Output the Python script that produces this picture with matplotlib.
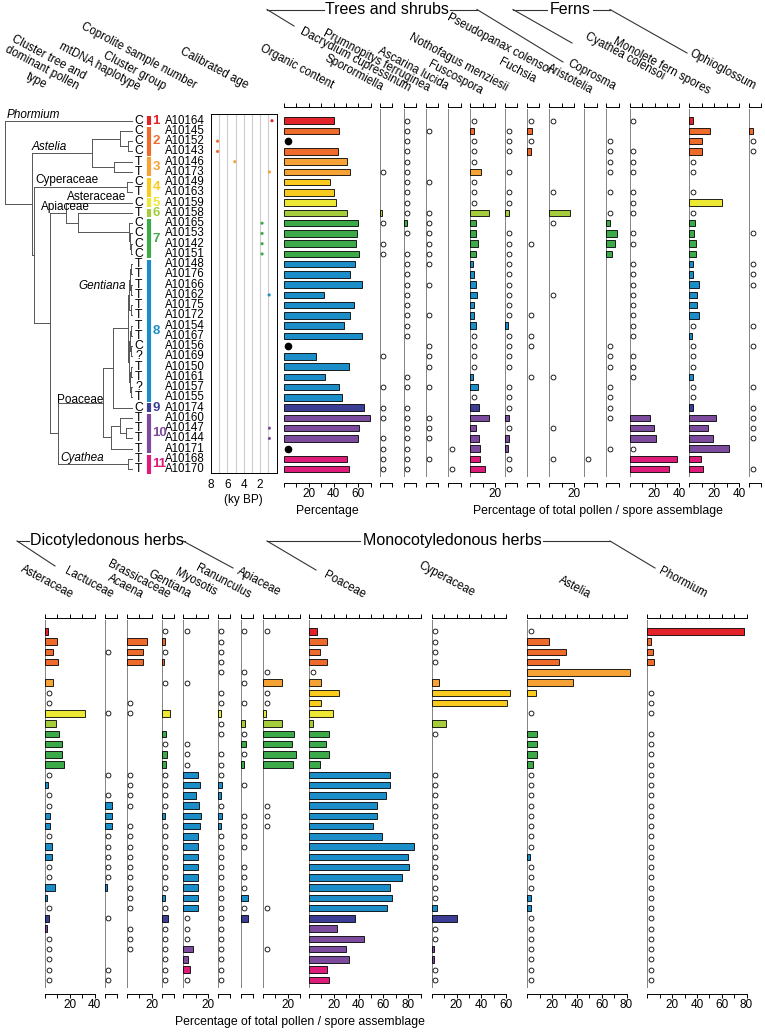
import numpy as np
import matplotlib
matplotlib.use('Agg')
import matplotlib.pyplot as plt

plt.rcParams['font.family'] = ['Liberation Sans', 'DejaVu Sans']

# ------------------------------------------------------------------ data
samples = ['A10164', 'A10145', 'A10152', 'A10143', 'A10146', 'A10173', 'A10149',
           'A10163', 'A10159', 'A10158', 'A10165', 'A10153', 'A10142', 'A10151',
           'A10148', 'A10176', 'A10166', 'A10162', 'A10175', 'A10172', 'A10154',
           'A10167', 'A10156', 'A10169', 'A10150', 'A10161', 'A10157', 'A10155',
           'A10174', 'A10160', 'A10147', 'A10144', 'A10171', 'A10168', 'A10170']
haplotypes = list("CCCCTTCTCTCCCCTTTTTTTTC?TT?TCTTTTTT")
clusters = [1, 2, 2, 2, 3, 3, 4, 4, 5, 6, 7, 7, 7, 7] + [8] * 14 + [9, 10, 10, 10, 10, 11, 11]
cluster_colors = {1: '#E3222A', 2: '#EE6B2B', 3: '#F6A234', 4: '#F8CB1E', 5: '#EDE833',
                  6: '#A5CD3B', 7: '#3DAA4A', 8: '#1B8DC9', 9: '#3C3E95', 10: '#7C4B9D',
                  11: '#DF1B7A'}
NA = np.nan
ages = [0.55, NA, 7.2, 7.2, 5.1, 0.87, NA, NA, NA, NA, 1.76, 1.76, 1.76, 1.76, NA, NA, NA,
        0.9, NA, NA, NA, NA, NA, NA, NA, NA, NA, NA, NA, NA, 0.87, 0.87, NA, NA, NA]
organic = [40.5, 44, NA, 43.5, 50.5, 53, 36.8, 40, 42, 51, 59.5, 59, 58.4, 60.5, 57, 53.5,
           62.7, 32, 56.5, 53.5, 48, 62.7, NA, 26, 52.7, 32.7, 44.3, 47, 64.3, 69, 60.8,
           59.7, NA, 50.8, 52.4]

# dendrogram merges: (child a, child b, height); leaves 0..34, internal nodes 35..
merges = [(2, 3, 4), (1, 35, 12), (4, 5, 18), (36, 37, 40),           # 35-38
          (6, 7, 5),                                                   # 39
          (12, 13, 1.5), (11, 40, 2.5), (10, 41, 3.5), (9, 42, 53.7),  # 40-43
          (8, 43, 66.3),                                               # 44
          (14, 15, 1), (16, 17, 1.2), (45, 46, 2), (18, 19, 1), (47, 48, 3),   # 45-49
          (20, 21, 1.5), (22, 23, 0.7), (50, 51, 2.5), (24, 25, 1), (26, 27, 1.5),  # 50-54
          (53, 54, 2), (52, 55, 3.5), (49, 56, 4.5), (57, 28, 19.3),   # 55-58
          (30, 31, 6), (29, 59, 12), (60, 32, 21), (58, 61, 28.7),     # 59-62
          (33, 34, 4.3), (62, 63, 73.7), (44, 64, 82), (39, 65, 97.7), # 63-66
          (38, 66, 100.3), (0, 67, 127)]                               # 67-68
clade_labels = [('Phormium', True), ('Astelia', True), ('Cyperaceae', False),
                ('Asteraceae', False), ('Apiaceae', False), ('Gentiana', True),
                ('Poaceae', False), ('Cyathea', True)]

# top section taxa (0 = absent, 0.5 = present < 1 %)
sporormiella = [0, 0, 0, 0, 0, .5, 0, 0, 0, 2.2, .5, 0, .5, .5, 0, 0, 0, 0, 0, 0, 0, 0, 0, .5,
                0, 0, .5, 0, .5, .5, 0, .5, .5, .5, .5]
dacrydium = [.5, .5, .5, .5, .5, .5, .5, .5, .5, .5, 2.4, .5, 0, .5, .5, .5, .5, .5, .5, .5,
             .5, .5, 0, 0, 0, .5, .5, 0, .5, .5, .5, .5, .5, .5, .5]
prumnopitys = [0, .5, 0, 0, 0, 0, .5, 0, 0, .5, .5, .5, .5, .5, .5, 0, .5, 0, 0, .5, 0, 0,
               .5, .5, .5, 0, .5, 0, 0, .5, .5, .5, 0, .5, 0]
ascarina = [0] * 32 + [.5, 0, .5]
fuscospora = [.5, 2.7, .5, .5, .5, 8.9, .5, .5, .5, 14.9, 4.9, 4.6, 6.2, 4.9, 2.4, 2.7, 4.9,
              5.7, 3.2, 3.2, 4.6, .5, .5, .5, .5, 2.4, 6.2, .5, 6.8, 14.9, 4.3, 7, 7.6, 8.1, 11.9]
nothofagus = [0, .5, .5, .5, 0, .5, 0, .5, .5, 3, 0, .5, .5, .5, .5, .5, .5, .5, .5, .5, 2.4,
              .5, .5, .5, .5, 0, .5, .5, .5, 3.5, .5, 3, 2.4, .5, .5]
fuchsia = [.5, 3.8, .5, 3.2, 0, 0, 0, 0, 0, 0, 0, 0, .5, 0, 0, 0, 0, 0, 0, .5, 0, .5, .5, 0,
           0, .5, 0, 0, 0, 0, 0, 0, 0, 0, 0]
pseudopanax = [.5, 0, 0, 0, 0, 0, 0, .5, 0, 16.8, .5, 0, 0, 0, 0, 0, 0, .5, 0, 0, 0, 0, 0, 0,
               0, .5, 0, 0, 0, 0, .5, 0, 0, .5, 0]
aristotelia = [0] * 33 + [.5, 0]
coprosma = [0, 0, .5, .5, .5, .5, 0, .5, 0, .5, 2.7, 8.4, 6.8, 4.6, 0, 0, 0, 0, 0, 0, 0, 0,
            .5, .5, .5, 0, .5, .5, .5, .5, 0, 0, .5, 0, 0]
cyathea = [.5, 0, 0, .5, .5, .5, 0, .5, .5, .5, 0, .5, .5, 0, .5, .5, .5, .5, .5, .5, .5, .5,
           0, .5, .5, .5, 0, 0, 0, 16.5, 19.2, 21.6, .5, 38.4, 31.4]
monolete = [3.2, 16.8, 10.5, 10, .5, .5, 0, .5, 26.2, .5, 4.6, 4, 5.7, 5.1, 3.2, 3.2, 8.1,
            6.5, 6.5, 7.6, .5, 2.4, .5, .5, .5, 3, .5, .5, 3.2, 21.6, 15.4, 18.9, 31.9, 9.5, 11.4]
ophioglossum = [0, 3.5, .5, .5, 0, 0, 0, 0, 0, 0, 0, .5, 0, 0, .5, .5, .5, 0, 0, 0, .5, 0, .5,
                0, 0, 0, .5, 0, .5, .5, .5, .5, 0, 0, .5]

# bottom section taxa
asteraceae = [2.7, 9.9, 6.7, 10.4, 0, 6.7, .5, .5, 32.5, 8.5, 10.9, 14.1, 14.1, 15.7, .5, 2.1,
              .5, .5, 4, 4.3, .5, 6, 6, .5, .5, 8, 2, .5, 3, 2, .5, .5, .5, .5, .5]
lactuceae = [0, 0, .5, 0, 0, 0, 0, 0, .5, 0, 0, 0, 0, 0, .5, 0, .5, 6.1, 5.6, 6.1, .5, .5, .5,
             .5, .5, 2, 0, 0, .5, 0, 0, 0, 0, .5, .5]
acaena = [0, 16.5, 12.8, 13.1, 0, 0, 0, .5, .5, 0, 0, 0, 0, 0, .5, .5, .5, .5, 0, .5, .5, .5,
          .5, .5, .5, .5, .5, .5, 0, .5, .5, .5, 0, 0, 0]
brassicaceae = [.5, 2.4, .5, 2.1, 0, .5, 0, 0, 6.4, 0, 3.5, .5, 4.3, 3.5, .5, .5, .5, .5, 2.4,
                .5, .5, .5, .5, .5, .5, .5, 2.4, .5, 5, .5, .5, .5, .5, .5, .5]
gentiana = [.5, 0, 0, 0, 0, .5, 0, 0, 0, 0, 0, .5, .5, .5, 12, 13.1, 9.9, 12.3, 14.1, 13.3,
            12, 12, 12, 12, 12, 12, 12, 12, .5, .5, .5, 8, 4, 5, .5]
myosotis = [.5, .5, .5, .5, .5, 0, .5, .5, 2.9, .5, .5, 0, .5, .5, .5, 3.7, 2.9, .5, 3.2,
            2.9, .5, .5, .5, .5, .5, .5, .5, .5, .5, .5, .5, .5, .5, .5, .5]
ranunculus = [.5, 0, 0, 0, .5, .5, 0, .5, 0, 3.7, .5, 4.3, .5, 2.9, 0, .5, 0, 0, .5, .5,
              .5, .5, 0, .5, .5, .5, 6, .5, 6, 0, 0, 0, 0, 0, 0]
apiaceae = [.5, 0, 0, 0, .5, 15.5, .5, .5, 2.7, 15.7, 25, 23.2, 26.7, 24.5, 0, 0, 0, .5, .5,
            .5, 0, 0, 0, 0, 0, 0, 0, .5, 0, 0, 0, .5, 0, 0, 0]
poaceae = [6.5, 14.6, 9, 14.6, .5, 10, 24, 10, 19.5, 3, 16, 14, 16, 9, 65, 65, 62, 54.5, 55,
           52, 59, 85, 80, 81, 75, 65, 67, 62.5, 37, 22.7, 44, 30, 32.5, 14.6, 16]
cyperaceae = [.5, .5, .5, .5, 0, 6, 63.5, 61, 0, 11.6, .5, 0, 0, 0, .5, .5, .5, .5, .5, .5,
              .5, .5, .5, .5, .5, .5, .5, 4.5, 20, .5, .5, 2, 2, .5, .5]
astelia = [.5, 17.6, 31.4, 25.7, 82.7, 37, 7, 0, .5, 0, 8, 8, 8, 4.6, .5, .5, .5, .5, .5, .5,
           .5, .5, 2, .5, .5, .5, 3, 3, .5, .5, .5, .5, .5, .5, .5]
phormium = [77.8, 3, 4.6, 5.4, 0, 0, .5, .5, .5, 0, .5, .5, .5, .5, .5, .5, .5, .5, .5, .5,
            .5, .5, .5, .5, .5, .5, .5, .5, .5, .5, .5, .5, .5, .5, .5]

top_panels = [('Sporormiella', sporormiella, 10), ('Dacrydium cupressinum', dacrydium, 10),
              ('Prumnopitys ferruginea', prumnopitys, 10), ('Ascarina lucida', ascarina, 10),
              ('Fuscospora', fuscospora, 20), ('Nothofagus menziesii', nothofagus, 10),
              ('Fuchsia', fuchsia, 10), ('Pseudopanax colensoi', pseudopanax, 20),
              ('Aristotelia', aristotelia, 10), ('Coprosma', coprosma, 10),
              ('Cyathea colensoi', cyathea, 40), ('Monolete fern spores', monolete, 40),
              ('Ophioglossum', ophioglossum, 10)]
bottom_panels = [('Asteraceae', asteraceae, 40), ('Lactuceae', lactuceae, 10),
                 ('Acaena', acaena, 20), ('Brassicaceae', brassicaceae, 10),
                 ('Gentiana', gentiana, 20), ('Myosotis', myosotis, 10),
                 ('Ranunculus', ranunculus, 10), ('Apiaceae', apiaceae, 30),
                 ('Poaceae', poaceae, 90), ('Cyperaceae', cyperaceae, 60),
                 ('Astelia', astelia, 80), ('Phormium', phormium, 80)]

# ------------------------------------------------------------------ layout (pixels)
W, H = 765, 1032
SC = 1.24                       # px per percent
ROW_DY = 10.25
TOP_ROW0, TOP_Y0, TOP_Y1 = 120.7, 109, 477
BOT_ROW0, BOT_Y0, BOT_Y1 = 631.3, 620, 988
top_x0 = [379.7, 403.7, 425.7, 448.3, 470.3, 505, 527, 549.3, 584.3, 606.3, 629.7, 689.3, 749]
top_label_end = [(381, 93), (408, 93), (428, 93), (446, 92), (480, 96), (506, 93), (534, 85),
                 (548, 76), (591, 96), (614, 92), (662, 82), (708, 96), (754, 92)]
bot_x0 = [45, 104.7, 126.7, 161.7, 183.3, 217.7, 240.7, 263, 309, 431.7, 527.3, 647.3]
bot_label_end = [(71, 600), (111, 600), (141, 600), (168, 600), (189, 600), (214, 598),
                 (249, 600), (279, 598), (363, 600), (473, 598), (588, 600), (704, 600)]

fig = plt.figure(figsize=(W / 100, H / 100), dpi=100)
fig.patch.set_facecolor('white')


def px_axes(x0, y0, x1, y1):
    return fig.add_axes([x0 / W, 1 - y1 / H, (x1 - x0) / W, (y1 - y0) / H])


def row_lim(ax, row0, y0, y1):
    ax.set_ylim((y1 - row0) / ROW_DY, (y0 - row0) / ROW_DY)


def style_strat(ax, xmax, top_out, bot_out):
    for s in ('left', 'right'):
        ax.spines[s].set_visible(False)
    for s, o in (('top', top_out), ('bottom', bot_out)):
        ax.spines[s].set_position(('outward', o))
        ax.spines[s].set_bounds(0, xmax)
        ax.spines[s].set_linewidth(0.7)
    ticks = np.arange(0, xmax + 0.01, 10)
    ax.set_xticks(ticks)
    ax.set_xticklabels([str(int(t)) if (t > 0 and t % 20 == 0) else '' for t in ticks])
    ax.tick_params(axis='x', top=True, bottom=True, labeltop=False, labelbottom=True,
                   direction='out', length=2.6, width=0.7, pad=1.2, labelsize=8.5)
    ax.set_yticks([])
    ax.patch.set_visible(False)


def draw_vals(ax, vals):
    v = np.array(vals, float)
    rows = np.arange(len(v))
    isbar = v >= 1
    bars = ax.barh(rows[isbar], v[isbar], height=0.64,
                   color=[cluster_colors[clusters[i]] for i in rows[isbar]],
                   edgecolor='black', linewidth=0.6, zorder=3)
    for b in bars:
        b.set_clip_on(False)
    tr = (v > 0) & (v < 1)
    ax.plot(np.full(tr.sum(), 3.0), rows[tr], 'o', ms=3.5, mfc='white', mec='black',
            mew=0.6, clip_on=False, zorder=3)


def taxon_panel(x0, xmax, vals, row0, y0, y1, top_out, bot_out):
    ax = px_axes(x0, y0, x0 + xmax * SC, y1)
    ax.set_xlim(0, xmax)
    row_lim(ax, row0, y0, y1)
    ax.axvline(0, color='#7a7a7a', lw=1.3, zorder=2)
    draw_vals(ax, vals)
    style_strat(ax, xmax, top_out, bot_out)
    return ax


# overlay for headers
ov = fig.add_axes([0, 0, 1, 1])
ov.set_xlim(0, W)
ov.set_ylim(H, 0)
ov.axis('off')

ROT = -28
def rot_label(x, y, s, size=8.3, style='normal'):
    ov.text(x, y, s, rotation=ROT, rotation_mode='anchor', ha='right', va='baseline',
            fontsize=size, style=style)

# left header labels
rot_label(84, 80, 'Cluster tree and')
rot_label(76, 90, 'dominant pollen')
rot_label(44, 89, 'type')
rot_label(138, 90, 'mtDNA haplotype')
rot_label(194, 89, 'Coprolite sample number')
rot_label(164, 90, 'Cluster group')
rot_label(246, 89, 'Calibrated age')
rot_label(331, 89, 'Organic content')
for (name, _, _), (xe, ye) in zip(top_panels, top_label_end):
    rot_label(xe, ye - 2, name)
for (name, _, _), (xe, ye) in zip(bottom_panels, bot_label_end):
    rot_label(xe, ye - 2, name)


def bracket(xl, xr, y, text, tx, left_end, right_end, tw):
    ov.plot([xl, tx - tw / 2 - 3], [y, y], color='#333333', lw=0.8)
    ov.plot([tx + tw / 2 + 3, xr], [y, y], color='#333333', lw=0.8)
    ov.plot([xl, left_end[0]], [y, left_end[1]], color='#333333', lw=0.8)
    ov.plot([xr, right_end[0]], [y, right_end[1]], color='#333333', lw=0.8)
    ov.text(tx, y, text, ha='center', va='center', fontsize=11.5)

bracket(267, 477, 9.5, 'Trees and shrubs', 387, (294, 26), (563, 62), 120)
bracket(513, 610, 9.5, 'Ferns', 570, (572, 43), (687, 53), 40)
bracket(17, 183, 541, 'Dicotyledonous herbs', 107, (55, 566), (233, 568), 150)
bracket(267, 610, 541, 'Monocotyledonous herbs', 452, (316, 570), (655, 568), 177)

# ------------------------------------------------------------------ left block
axL = px_axes(0, TOP_Y0, 210, TOP_Y1)
axL.set_xlim(0, 210)
row_lim(axL, TOP_ROW0, TOP_Y0, TOP_Y1)
axL.axis('off')

LEAF_X, HSCALE = 132, 1.0
n = len(samples)
node_y = {i: float(i) for i in range(n)}
node_h = {i: 0.0 for i in range(n)}
for k, (a, b, h) in enumerate(merges):
    idx = n + k
    node_y[idx] = (node_y[a] + node_y[b]) / 2
    node_h[idx] = h
    xh = LEAF_X - h * HSCALE
    axL.plot([xh, xh], [node_y[a], node_y[b]], color='#555555', lw=0.7)
    for c in (a, b):
        axL.plot([xh, LEAF_X - node_h[c] * HSCALE], [node_y[c], node_y[c]],
                 color='#555555', lw=0.7)

clade_pos = [(7, 117.5), (32, 149.5), (35, 182.5), (66.5, 200.3), (41, 210), (78, 289.3),
             (57, 403), (60, 461)]
for (txt, it), (x, y) in zip(clade_labels, clade_pos):
    axL.text(x, (y - TOP_ROW0) / ROW_DY, txt, fontsize=8.5, style='italic' if it else 'normal',
             ha='left', va='baseline')

for i in range(n):
    axL.text(138.5, i, haplotypes[i], ha='center', va='center', fontsize=8.8)
    axL.text(205, i, samples[i], ha='right', va='center', fontsize=8.3)
for c in sorted(set(clusters)):
    rs = [i for i in range(n) if clusters[i] == c]
    axL.plot([148.7, 148.7], [rs[0] - 0.42, rs[-1] + 0.42], color=cluster_colors[c],
             lw=3.0, solid_capstyle='butt')
    axL.text(152.3, (rs[0] + rs[-1]) / 2, str(c), color=cluster_colors[c], ha='left',
             va='center', fontsize=9.5, fontweight='bold')

# ------------------------------------------------------------------ age panel
axA = px_axes(211, 114, 276.5, 473.3)
axA.set_xlim(8, 0)
row_lim(axA, TOP_ROW0, 114, 473.3)
for g in range(1, 8):
    axA.axvline(g, color='#cccccc', lw=0.8, zorder=0)
ag = np.array(ages, float)
ok = ~np.isnan(ag)
axA.scatter(ag[ok], np.arange(n)[ok], s=5,
            c=[cluster_colors[clusters[i]] for i in np.arange(n)[ok]], zorder=3, linewidths=0)
axA.set_xticks([8, 6, 4, 2])
axA.set_yticks([])
axA.tick_params(axis='x', length=0, pad=4, labelsize=8.5)
for s in axA.spines.values():
    s.set_linewidth(0.7)
axA.set_xlabel('(ky BP)', fontsize=8.5, labelpad=2)

# ------------------------------------------------------------------ organic content
axO = px_axes(284, TOP_Y0, 284 + 70 * SC, TOP_Y1)
axO.set_xlim(0, 70)
row_lim(axO, TOP_ROW0, TOP_Y0, TOP_Y1)
draw_vals(axO, np.nan_to_num(np.array(organic, float), nan=0.0))
miss = np.isnan(np.array(organic, float))
axO.plot(np.full(miss.sum(), 3.0), np.arange(n)[miss], 'o', ms=4.5, color='black',
         clip_on=False, zorder=4)
style_strat(axO, 70, 1.7, 4.2)

# ------------------------------------------------------------------ taxa panels
for (name, vals, xmax), x0 in zip(top_panels, top_x0):
    taxon_panel(x0, xmax, vals, TOP_ROW0, TOP_Y0, TOP_Y1, 1.7, 4.2)
for (name, vals, xmax), x0 in zip(bottom_panels, bot_x0):
    taxon_panel(x0, xmax, vals, BOT_ROW0, BOT_Y0, BOT_Y1, 1.2, 4.2)

ov.text(327, 511, 'Percentage', ha='center', va='center', fontsize=8.8)
ov.text(598, 511, 'Percentage of total pollen / spore assemblage', ha='center',
        va='center', fontsize=8.8)
ov.text(300, 1022, 'Percentage of total pollen / spore assemblage', ha='center',
        va='center', fontsize=8.8)

fig.savefig('out.png', dpi=100, facecolor='white')
